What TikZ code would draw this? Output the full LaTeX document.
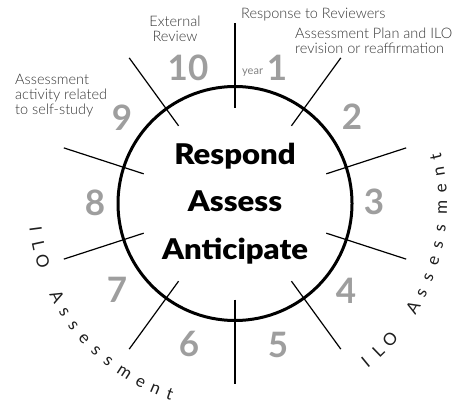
\documentclass[tikz,border=0pt]{standalone}
\usepackage{fontspec}
\setmainfont{Lato}
\newfontfamily\latolight{Lato Light}
\newfontfamily\hubfont[FakeStretch=1.09]{Lato Black}
\definecolor{numgray}{RGB}{158,158,158}
\definecolor{labelgray}{RGB}{55,55,55}
\definecolor{arcgray}{RGB}{30,30,30}
\tikzset{
  hubstyle/.style={circle, draw=black, line width=3pt, minimum size=234pt, inner sep=0pt,
    align=center, font=\hubfont\fontsize{28.5}{47.5}\selectfont, text=black},
  tickline/.style={line width=1.2pt, black},
  numstyle/.style={font=\bfseries\fontsize{35}{35}\selectfont, text=numgray, inner sep=0pt},
  labelstyle/.style={font=\latolight\fontsize{14.5}{15}\selectfont, text=labelgray, inner sep=0pt},
  yearstyle/.style={font=\fontsize{11}{11}\selectfont, text=gray, inner sep=0pt},
  arcletter/.style={font=\fontsize{17}{17}\selectfont, text=arcgray, inner sep=0pt, anchor=base},
}
\begin{document}
\begin{tikzpicture}[x=1pt,y=1pt]
\useasboundingbox (0,0) rectangle (465,408);
\node[hubstyle] (hub) at (235,204.5) {Respond\\Assess\\Anticipate};
\begin{scope}[shift={(235,204.5)}]
  \foreach \a in {90,54,18,-18,-54,-90,-126,-162,162,126}
    \draw[tickline] (\a:96) -- (\a:180);
  \foreach \c/\a in {I/-50.6,L/-45.9,O/-41.2,A/-30.2,s/-25.6,s/-21.0,e/-16.2,s/-11.4,s/-6.8,m/-1.2,e/4.2,n/8.8,t/13.1}
    \node[arcletter, rotate=\a+90] at (\a:212) {\c};
  \foreach \c/\a in {I/-172.6,L/-167.9,O/-163.2,A/-152.2,s/-147.6,s/-143.0,e/-138.2,s/-133.4,s/-128.8,m/-123.2,e/-117.8,n/-113.2,t/-108.9}
    \node[arcletter, rotate=\a+90] at (\a:207) {\c};
\end{scope}
\node[numstyle] (n1) at (277,340.5) {1};
\node[numstyle] (n2) at (352,291) {2};
\node[numstyle] (n3) at (374,206) {3};
\node[numstyle] (n4) at (346,117) {4};
\node[numstyle] (n5) at (278,63.5) {5};
\node[numstyle] (n6) at (189,64) {6};
\node[numstyle] (n7) at (117,118.5) {7};
\node[numstyle] (n8) at (95,205.5) {8};
\node[numstyle] (n9) at (122,290) {9};
\node[numstyle] (n10) at (188,340.5) {10};
\node[yearstyle, anchor=base west] (year) at (242,334) {year};
\node[labelstyle, anchor=north west, align=left] (resp) at (241,400) {Response to Reviewers};
\node[labelstyle, anchor=north west, align=left] (plan) at (295,380.2) {Assessment Plan and ILO\\revision or reaffirmation};
\node[labelstyle, anchor=north, align=center] (ext) at (175,391.8) {External\\Review};
\node[labelstyle, anchor=north west, align=left] (self) at (15,333.5) {Assessment\\activity related\\to self-study};
\end{tikzpicture}
\end{document}
